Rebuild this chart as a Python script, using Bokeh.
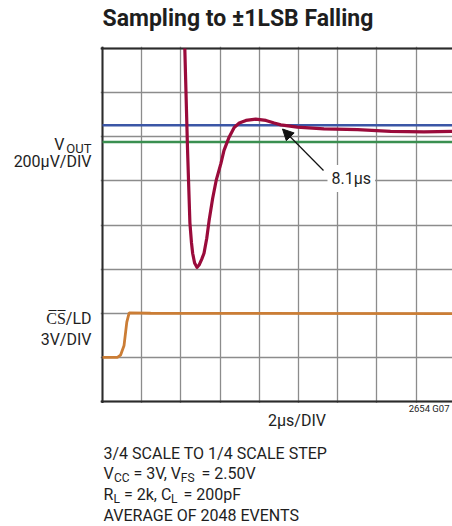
from bokeh.plotting import figure
from bokeh.layouts import column, row
from bokeh.models import (Label, Arrow, NormalHead, SingleIntervalTicker, FixedTicker,
                          Range1d, Grid)
from bokeh.embed import file_html
from bokeh.resources import INLINE

# ---------------- data (in scope divisions) ----------------
vout_x = [2.10, 2.17, 2.23, 2.27, 2.30, 2.35, 2.41, 2.47, 2.53, 2.59, 2.66, 2.72, 2.81,
          2.90, 3.02, 3.10, 3.23, 3.36, 3.49, 3.66, 3.91, 4.17, 4.38, 4.55, 4.97, 5.65,
          6.51, 7.35, 8.20, 8.94]
vout_y = [8.00, 5.70, 4.05, 3.60, 3.36, 3.14, 3.04, 3.10, 3.22, 3.36, 3.70, 4.10, 4.60,
          5.01, 5.39, 5.69, 5.99, 6.21, 6.31, 6.37, 6.40, 6.37, 6.31, 6.27, 6.22, 6.18,
          6.16, 6.12, 6.11, 6.12]

band_x = [0.0, 9.0]
upper_lsb = [6.26, 6.26]
lower_lsb = [5.88, 5.88]

cs_x = [0.00, 0.38, 0.46, 0.55, 0.62, 0.68, 1.23, 8.94]
cs_y = [1.00, 1.00, 1.05, 1.27, 1.80, 2.01, 2.00, 1.99]

grid_div = 1
n_xdiv = 8.93
n_ydiv = 8

# ---------------- layout (picture pixels) ----------------
W, H = 452, 526
FL, FT, FB = 102, 48, 401          # scope frame left / top / bottom
PAD = 2                            # room for the dark frame lines
XPX = (W - FL) / n_xdiv
YPX = (FB - FT) / n_ydiv

FONT = "Roboto"
INK = "#1e1e1e"
DARK = "#2b2b2b"


def blank(w, h, x0, x1, y0, y1):
    f = figure(width=w, height=h, output_backend="svg", toolbar_location=None,
               x_range=Range1d(x0, x1), y_range=Range1d(y1, y0),
               x_axis_location=None, y_axis_location=None,
               min_border=0, outline_line_color=None,
               background_fill_color="white", border_fill_color="white")
    f.grid.visible = False
    return f


def lab(f, text, px, py, size, align="left", bold=False):
    # py is the vertical centre of the text in picture pixels
    f.add_layout(Label(x=px, y=py, text=text, text_font=FONT, text_font_size=f"{size}px",
                       text_align=align, text_baseline="middle", text_color=INK,
                       text_font_style="bold" if bold else "normal"))


# ---- title strip ----
top = blank(W, FT - PAD, 0, W, 0, FT - PAD)
lab(top, "Sampling to ±1LSB Falling", 102, 18, 23, bold=True)

# ---- left label strip ----
left = blank(FL - PAD, FB - FT + 2 * PAD, 0, FL - PAD, FT - PAD, FB + PAD)
lab(left, "V", 64, 144, 16, align="right")
lab(left, "OUT", 91, 147.5, 13, align="right")
lab(left, "200µV/DIV", 91, 160.5, 16, align="right")
lab(left, "C\u0305S\u0305/LD", 91, 317.5, 16, align="right")
lab(left, "3V/DIV", 91, 338.5, 16, align="right")

# ---- bottom strip ----
bot = blank(W, H - FB - PAD, 0, W, FB + PAD, H)
lab(bot, "2µs/DIV", 296.5, 419.5, 16, align="center")
lab(bot, "2654 G07", 449, 407.5, 9.5, align="right")
lab(bot, "3/4 SCALE TO 1/4 SCALE STEP", 103, 452.5, 16)
lab(bot, "V", 103, 473.3, 16)
lab(bot, "CC", 113.4, 477.5, 12)
lab(bot, "= 3V, V", 133, 473.3, 16)
lab(bot, "FS", 180.3, 477.5, 12)
lab(bot, "= 2.50V", 201, 473.3, 16)
lab(bot, "R", 103, 494, 16)
lab(bot, "L", 113, 498.2, 12)
lab(bot, "= 2k, C", 123.5, 494, 16)
lab(bot, "L", 170.5, 498.2, 12)
lab(bot, "= 200pF", 183, 494, 16)
lab(bot, "AVERAGE OF 2048 EVENTS", 103, 514.7, 16)

# ---- scope screen ----
xpad = PAD / XPX
ypad = PAD / YPX
p = figure(width=W - FL + PAD, height=FB - FT + 2 * PAD, output_backend="svg",
           toolbar_location=None,
           x_range=Range1d(-xpad, n_xdiv), y_range=Range1d(-ypad, n_ydiv + ypad),
           x_axis_location=None, y_axis_location=None, min_border=0,
           outline_line_color=None, background_fill_color="white",
           border_fill_color="white")
p.grid.visible = False
p.add_layout(Grid(dimension=0, ticker=SingleIntervalTicker(interval=grid_div),
                  grid_line_color="#8c8c8c", grid_line_width=1.3))
p.add_layout(Grid(dimension=1, ticker=SingleIntervalTicker(interval=grid_div),
                  grid_line_color="#8c8c8c", grid_line_width=1.3))
p.add_layout(Grid(dimension=0, ticker=FixedTicker(ticks=[0]),
                  grid_line_color=DARK, grid_line_width=2))
p.add_layout(Grid(dimension=1, ticker=FixedTicker(ticks=[0, n_ydiv]),
                  grid_line_color=DARK, grid_line_width=2))

p.line(band_x, upper_lsb, line_color="#3b56a6", line_width=2.6)
p.line(band_x, lower_lsb, line_color="#3a8f50", line_width=2.6)
p.line(cs_x, cs_y, line_color="#cb7d35", line_width=2.8)
p.line(vout_x, vout_y, line_color="#9a0b3b", line_width=3.2, line_join="round")

note = Label(x=(327 - FL) / XPX, y=(FB - 178) / YPX, text="8.1µs", text_font=FONT,
             text_font_size="16px", text_baseline="middle", text_color=INK,
             background_fill_color="white", padding=4)
p.add_layout(note)
p.add_layout(Arrow(x_start=(323 - FL) / XPX, y_start=(FB - 170) / YPX,
                   x_end=(282 - FL) / XPX, y_end=(FB - 128.5) / YPX,
                   line_color="#111111", line_width=1.2,
                   end=NormalHead(size=11, fill_color="#111111", line_color="#111111")))

layout = column(top, row(left, p), bot)
open("out.html", "w").write(file_html(layout, INLINE))
